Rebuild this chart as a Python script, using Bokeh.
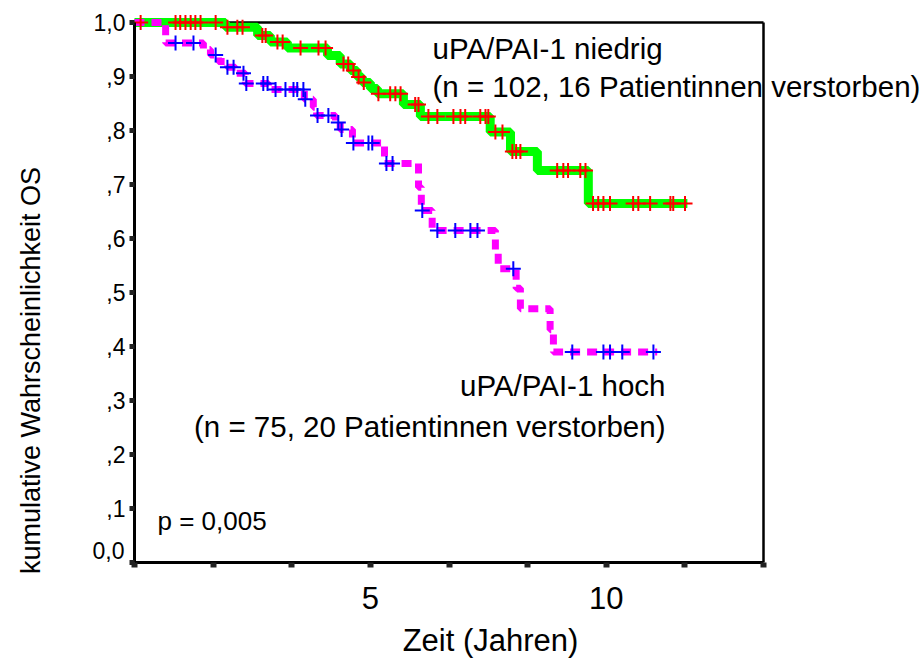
import numpy as np
from bokeh.plotting import figure
from bokeh.models import Range1d, FixedTicker, Label
from bokeh.embed import file_html
from bokeh.resources import INLINE

# ---- data (time in years, cumulative survival) ----
low_step_t = [0.0, 1.93, 2.61, 2.88, 3.24, 4.09, 4.36, 4.58, 4.72, 4.83, 5.00, 5.15,
              5.70, 6.06, 7.54, 7.97, 8.54, 9.62, 11.72]
low_step_s = [1.0, 0.991, 0.976, 0.964, 0.953, 0.939, 0.923, 0.911, 0.899, 0.889, 0.878,
              0.868, 0.848, 0.826, 0.797, 0.761, 0.726, 0.665, 0.665]
low_cens_t = [0.13, 0.87, 0.97, 1.08, 1.19, 1.29, 1.40, 1.72, 1.97, 2.18, 2.29, 2.71, 2.78,
              3.03, 3.14, 3.52, 3.90, 4.05, 4.43, 4.53, 4.64, 4.75, 4.86, 5.17, 5.42, 5.53,
              5.64, 5.95, 6.02, 6.23, 6.42, 6.76, 6.91, 7.01, 7.33, 7.44, 7.50, 7.65, 7.80,
              8.01, 8.09, 8.18, 8.96, 9.09, 9.19, 9.45, 9.56, 9.72, 9.83, 9.94, 10.08, 10.57,
              10.68, 10.93, 11.36, 11.42, 11.67]

high_step_t = [0.0, 0.66, 1.46, 1.61, 1.78, 1.97, 2.14, 2.35, 2.84, 3.60, 3.79, 3.86, 4.26,
               4.36, 4.62, 5.30, 6.02, 6.08, 6.31, 7.65, 7.71, 8.09, 8.18, 8.81, 8.88, 11.08]
high_step_s = [1.0, 0.962, 0.950, 0.940, 0.928, 0.917, 0.906, 0.887, 0.876, 0.858, 0.843,
               0.828, 0.815, 0.802, 0.777, 0.739, 0.695, 0.652, 0.615, 0.578, 0.544, 0.508,
               0.470, 0.431, 0.390, 0.390]
high_cens_t = [0.87, 1.25, 1.72, 1.97, 2.10, 2.31, 2.37, 2.73, 2.82, 2.99, 3.20, 3.37, 3.45,
               3.58, 3.62, 3.88, 4.11, 4.32, 4.39, 4.64, 4.96, 5.04, 5.34, 5.47, 6.10, 6.42,
               6.80, 7.12, 7.27, 8.03, 9.28, 9.94, 10.08, 10.34, 11.00]

x_tick_vals = [0.0, 5/3, 10/3, 5.0, 20/3, 25/3, 10.0, 35/3, 40/3]
x_tick_labels = ["", "", "", "5", "", "", "10", "", ""]
y_tick_vals = [0.0, 0.1, 0.2, 0.3, 0.4, 0.5, 0.6, 0.7, 0.8, 0.9, 1.0]
y_tick_labels = ["0,0", ",1", ",2", ",3", ",4", ",5", ",6", ",7", ",8", ",9", "1,0"]

label_low_1 = "uPA/PAI-1 niedrig"
label_low_2 = "(n = 102, 16 Patientinnen verstorben)"
label_high_1 = "uPA/PAI-1 hoch"
label_high_2 = "(n = 75, 20 Patientinnen verstorben)"
p_text = "p = 0,005"
x_title = "Zeit (Jahren)"
y_title = "kumulative Wahrscheinlichkeit OS"

X_MAX = 40/3      # end of the drawn x axis (years)
Y_MAX = 1.0


def surv_at(times, step_t, step_s):
    idx = np.searchsorted(np.array(step_t), np.array(times), side="right") - 1
    return np.array(step_s)[idx]


FONT = "Liberation Sans"

# ---- layout: the frame covers the whole canvas; the axis box sits at
#      x-pixels 134..763 and y-pixels 22..562 inside it
W, H = 921, 660
BOX_L, BOX_R, BOX_T, BOX_B = 134, 763, 22, 562
px_x = (BOX_R - BOX_L) / X_MAX
px_y = (BOX_B - BOX_T) / Y_MAX
x_rng = Range1d(-BOX_L / px_x, (W - BOX_L) / px_x)
y_rng = Range1d(-(H - BOX_B) / px_y, Y_MAX + BOX_T / px_y)


def sx(px):
    return (px - BOX_L) / px_x


def sy(py):
    return (BOX_B - py) / px_y


p = figure(width=W, height=H, output_backend="svg", toolbar_location=None,
           x_range=x_rng, y_range=y_rng,
           min_border_left=0, min_border_right=0, min_border_top=0,
           min_border_bottom=0)
p.grid.visible = False
p.outline_line_color = None
p.background_fill_color = "white"
p.border_fill_color = "white"

# box (top and right sides)
p.segment(x0=[0, X_MAX], y0=[Y_MAX, 0], x1=[X_MAX, X_MAX], y1=[Y_MAX, Y_MAX],
          line_color="black", line_width=2.5)

# curves
p.step(low_step_t, low_step_s, mode="after", line_color="#00FF00", line_width=9)
p.step(high_step_t, high_step_s, mode="after", line_color="#FF00FF", line_width=7,
       line_dash="10 7")
p.scatter(low_cens_t, surv_at(low_cens_t, low_step_t, low_step_s), marker="cross",
          size=15, line_color="#FF0000", line_width=2)
p.scatter(high_cens_t, surv_at(high_cens_t, high_step_t, high_step_s), marker="cross",
          size=15, line_color="#0000FF", line_width=2)

# axes (fixed at the box edges)
p.xaxis.ticker = FixedTicker(ticks=x_tick_vals)
p.xaxis.major_label_overrides = {v: l for v, l in zip(x_tick_vals, x_tick_labels)}
p.xaxis.bounds = (0, X_MAX)
p.xaxis.fixed_location = 0
p.yaxis.ticker = FixedTicker(ticks=y_tick_vals)
# the "0,0" label sits a little above its tick in the original; drawn separately below
y_over = {v: l for v, l in zip(y_tick_vals, y_tick_labels)}
y_over[y_tick_vals[0]] = ""
p.yaxis.major_label_overrides = y_over
p.yaxis.bounds = (0, Y_MAX)
p.yaxis.fixed_location = 0
for ax in (p.xaxis, p.yaxis):
    ax.minor_tick_line_color = None
    ax.axis_line_width = 3
    ax.axis_line_color = "black"
    ax.major_tick_in = 0
    ax.major_tick_out = 5
    ax.major_tick_line_color = "#222222"
    ax.major_label_text_font = FONT
    ax.major_label_text_color = "black"
p.xaxis.major_tick_line_width = 6
p.yaxis.major_tick_line_width = 5
p.xaxis.major_label_text_font_size = "31px"
p.xaxis.major_label_standoff = 19
p.yaxis.major_label_text_font_size = "23px"
p.yaxis.major_label_standoff = 4


def add_text(x, y, text, size, align="left", angle=0.0):
    p.add_layout(Label(x=x, y=y, text=text, text_font=FONT, text_font_size=size,
                       text_color="black", text_align=align, text_baseline="middle",
                       angle=angle))


add_text(sx(124), sy(550), y_tick_labels[0], "23px", align="right")
add_text(sx(432), sy(48), label_low_1, "29.5px")
add_text(sx(432), sy(86), label_low_2, "29.5px")
add_text(sx(665), sy(385), label_high_1, "29.5px", align="right")
add_text(sx(665), sy(426), label_high_2, "29.5px", align="right")
add_text(sx(157), sy(520), p_text, "26px")
add_text(sx(490), sy(640), x_title, "31px", align="center")
add_text(sx(30), sy(370), y_title, "27px", align="center", angle=np.pi / 2)

open("out.html", "w").write(file_html(p, INLINE))
